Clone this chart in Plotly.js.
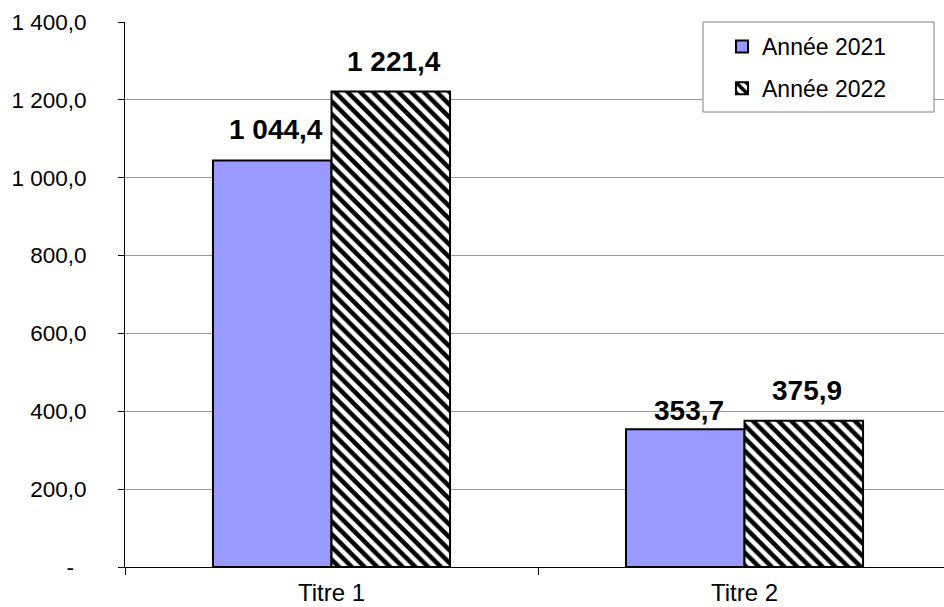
<!DOCTYPE html>
<html>
<head>
<meta charset="utf-8">
<script src="https://cdn.plot.ly/plotly-3.0.1.min.js"></script>
<style>html,body{margin:0;padding:0;background:#fff;}</style>
</head>
<body>
<div id="chart" style="width:944px;height:607px;"></div>
<script>
const categories = ["Titre 1", "Titre 2"];
const values2021 = [1044.4, 353.7];
const values2022 = [1221.4, 375.9];
const seriesNames = ["Année 2021", "Année 2022"];
const yTickVals = [0, 200, 400, 600, 800, 1000, 1200, 1400];
const yTickText = ["-\u00a0\u00a0", "200,0", "400,0", "600,0", "800,0", "1 000,0", "1 200,0", "1 400,0"];

function fmt(v) {
  const parts = v.toFixed(1).split(".");
  parts[0] = parts[0].replace(/\B(?=(\d{3})+(?!\d))/g, " ");
  return parts.join(",");
}

const font = "Liberation Sans, Arial, sans-serif";

const traces = [
  {
    type: "bar", name: seriesNames[0], x: categories, y: values2021,
    marker: {color: "#9999FF", line: {color: "#000", width: 2}},
    legendgroup: "a"
  },
  {
    type: "bar", name: seriesNames[1], x: categories, y: values2022,
    marker: {color: "#ffffff", line: {color: "#000", width: 2},
      pattern: {shape: "\\", fgcolor: "#000", bgcolor: "#fff", size: 9, solidity: 0.5}},
    legendgroup: "b"
  }
];

// data labels as annotations (above each bar)
const halfBar = 59;
const annotations = [];
[values2021, values2022].forEach((vals, i) => {
  vals.forEach((v, j) => {
    const other = i === 0 ? values2022[j] : values2021[j];
    // Excel-like: lower label sits closer to its bar when neighbour is nearly equal
    const close = i === 0 && Math.abs(other - v) < 60;
    annotations.push({
      x: categories[j], y: v, xref: "x", yref: "y",
      text: fmt(v), showarrow: false,
      xanchor: "center", yanchor: "bottom",
      xshift: (i === 0 ? -halfBar : halfBar) + 3,
      yshift: close ? 1 : 13,
      font: {family: font, size: 28, color: "#000", weight: "bold"}
    });
  });
});

const W = 944, H = 607, L = 125, R = 0, T = 22, B = 40;
const pw = W - L - R, ph = H - T - B;

const layout = {
  width: W, height: H,
  margin: {l: L, r: R, t: T, b: B},
  paper_bgcolor: "#fff", plot_bgcolor: "#fff",
  barmode: "group", bargap: 0.426, bargroupgap: 0,
  font: {family: font, size: 22, color: "#000"},
  showlegend: true,
  legend: {
    x: (722 - L) / pw, y: 1 - 3 / ph, xanchor: "left", yanchor: "top",
    bgcolor: "rgba(0,0,0,0)", borderwidth: 0,
    font: {family: font, size: 23, color: "#000"},
    traceorder: "grouped", tracegroupgap: 9
  },
  shapes: [{
    type: "rect", xref: "paper", yref: "paper", layer: "above",
    x0: (703 - L) / pw, x1: (934 - L) / pw,
    y0: 1 - (112 - T) / ph, y1: 1,
    fillcolor: "#fff", line: {color: "#808080", width: 1}
  }],
  annotations: annotations,
  xaxis: {
    type: "category", range: [-0.5, 1.483],
    showline: true, linecolor: "#000", linewidth: 1,
    ticks: "outside", tickson: "boundaries", ticklen: 7, tickcolor: "#000",
    ticklabelstandoff: 4,
    showgrid: false, zeroline: false,
    tickfont: {family: font, size: 24, color: "#000"}
  },
  yaxis: {
    range: [0, 1400], tickvals: yTickVals, ticktext: yTickText,
    showline: true, linecolor: "#000", linewidth: 1,
    ticks: "outside", ticklen: 6, tickcolor: "#000",
    ticklabelstandoff: 27,
    showgrid: true, gridcolor: "#999999", gridwidth: 1,
    zeroline: false,
    tickfont: {family: font, size: 22.5, color: "#000"}
  }
};

Plotly.newPlot("chart", traces, layout, {displayModeBar: false, staticPlot: true});
</script>
</body>
</html>
